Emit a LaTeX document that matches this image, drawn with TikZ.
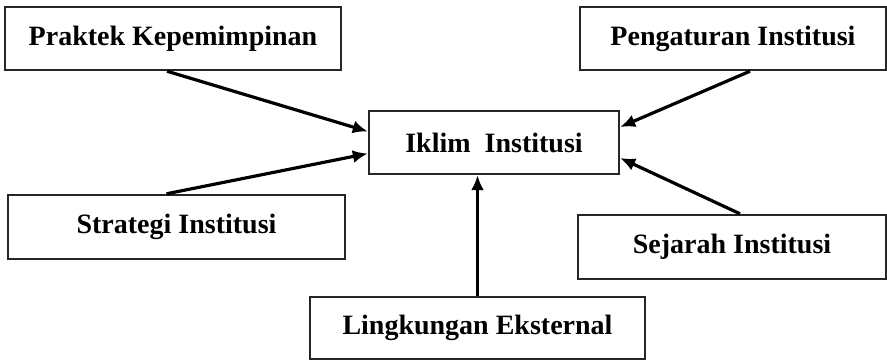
\documentclass[tikz,border=0pt]{standalone}
\usepackage{fontspec}
\setmainfont{Liberation Serif}
\usetikzlibrary{arrows.meta}

\begin{document}
\begin{tikzpicture}[x=0.5pt, y=-0.5pt,
            box/.style={draw=black!85, line width=1.2pt, rectangle, inner sep=0pt,
                font=\fontsize{14}{16}\selectfont\bfseries},
            link/.style={line width=1.6pt, -{Latex[length=7.5pt,width=6.5pt]}}]
            \useasboundingbox (0,0) rectangle (887,360);

            \node[box, minimum width=168pt, minimum height=31.5pt] (praktek) at (173,38.5) {Praktek Kepemimpinan\hspace{6pt}};
            \node[box, minimum width=153pt, minimum height=31.5pt] (pengaturan) at (733,38.5) {Pengaturan Institusi};
            \node[box, minimum width=125pt, minimum height=31.5pt] (iklim) at (494,142.5) {Iklim\ \ Institusi};
            \node[box, minimum width=168.5pt, minimum height=32pt] (strategi) at (176.5,227) {Strategi Institusi};
            \node[box, minimum width=154pt, minimum height=32pt] (sejarah) at (732,247) {Sejarah Institusi};
            \node[box, minimum width=167.5pt, minimum height=31pt] (lingkungan) at (477.5,328) {Lingkungan Eksternal};

            \draw[link] ([xshift=-3pt]praktek.south) -- (iklim.175);
            \draw[link] ([xshift=-5pt]strategi.north) -- (iklim.185);
            \draw[link] ([xshift=8.5pt]pengaturan.south) -- (iklim.7);
            \draw[link] ([xshift=4pt]sejarah.north) -- (iklim.-7);
            \draw[link] (lingkungan.north) -- (lingkungan.north |- iklim.south);

        \end{tikzpicture}
\end{document}
